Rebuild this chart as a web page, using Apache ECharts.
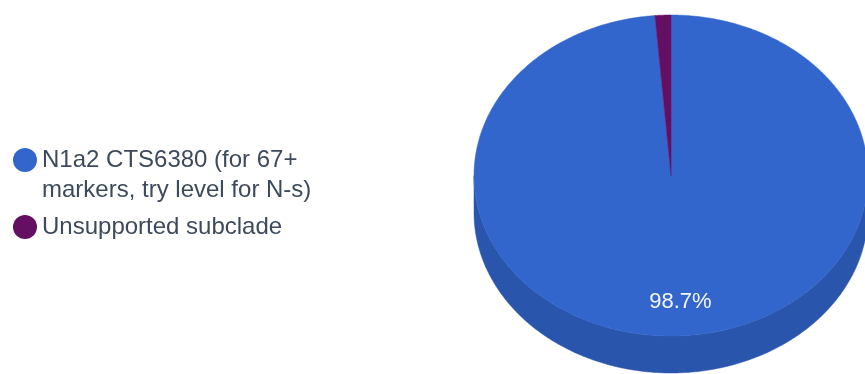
<!DOCTYPE html>
<html><head><meta charset="utf-8">
<script src="https://cdn.jsdelivr.net/npm/echarts@6/dist/echarts.min.js"></script>
<style>html,body{margin:0;padding:0;background:#fff}#c{width:865px;height:374px}</style>
</head><body><div id="c"></div>
<script>
// ---- data ----
const categories = ['N1a2 CTS6380 (for 67+ markers, try level for N-s)', 'Unsupported subclade'];
const values = [98.7, 1.3];
const colors = ['#3366cc', '#650f63'];
const sideColors = ['#2a55ad', '#4a0b48'];

const total = values.reduce((a, b) => a + b, 0);
const starts = [];
let acc = 0;
values.forEach(v => { starts.push(acc); acc += v; });

const PIE = { cx: 671, cy: 175.5, rx: 197, ry: 160.5, depth: 37, labelR: 0.79 };
const LEGEND_FONT = '24px "Liberation Sans", Arial, sans-serif';
const LEGEND_WIDTH = 290;

function pt(theta, dy) {
  const r = theta * Math.PI / 180;
  return [PIE.cx + PIE.rx * Math.sin(r), PIE.cy - PIE.ry * Math.cos(r) + (dy || 0)];
}
function arc(a, b, dy) {
  const pts = [];
  const n = Math.max(2, Math.ceil(Math.abs(b - a) * 2));
  for (let i = 0; i <= n; i++) pts.push(pt(a + (b - a) * i / n, dy));
  return pts;
}

function makeRender(idx) {
  return function (params, api) {
    const s = api.value(0), v = api.value(1);
    const a = s / total * 360, b = (s + v) / total * 360;
    const children = [];
    const fa = Math.max(a, 90), fb = Math.min(b, 270);
    if (fb > fa) {
      const top = arc(fa, fb, 0), bot = arc(fb, fa, PIE.depth);
      children.push({ type: 'polygon', shape: { points: top.concat(bot) },
        style: { fill: sideColors[idx], stroke: sideColors[idx], lineWidth: 0.5 } });
    }
    const face = [[PIE.cx, PIE.cy]].concat(arc(a, b, 0));
    children.push({ type: 'polygon', shape: { points: face },
      style: { fill: colors[idx], stroke: colors[idx], lineWidth: 0.5 } });
    const share = v / total;
    if (share > 0.05) {
      const m = (a + b) / 2 * Math.PI / 180;
      children.push({ type: 'text', z2: 10,
        style: { text: (share * 100).toFixed(1) + '%',
          x: PIE.cx + PIE.labelR * PIE.rx * Math.sin(m) + 3,
          y: PIE.cy - PIE.labelR * PIE.ry * Math.cos(m),
          align: 'center', verticalAlign: 'middle',
          fill: '#f4f7ff', font: '22px "Liberation Sans", Arial, sans-serif' } });
    }
    return { type: 'group', children };
  };
}

// measure legend names so that wrapped entries keep their icon on the first line
const ctx = document.createElement('canvas').getContext('2d');
ctx.font = LEGEND_FONT;
function legendText(name) {
  return ctx.measureText(name).width > LEGEND_WIDTH ? '\n' + name : name;
}

const series = categories.map((name, i) => ({
  type: 'custom', name: name, coordinateSystem: 'none',
  itemStyle: { color: colors[i] },
  renderItem: makeRender(i),
  data: [[starts[i], values[i]]],
  silent: true, animation: false
}));

const chart = echarts.init(document.getElementById('c'));
chart.setOption({
  animation: false,
  color: colors,
  legend: {
    orient: 'vertical', left: 13, top: 115, padding: 0,
    icon: 'circle', itemWidth: 24, itemHeight: 24, itemGap: 7,
    selectedMode: false,
    formatter: legendText,
    textStyle: { fontFamily: '"Liberation Sans", Arial, sans-serif', fontSize: 24,
      lineHeight: 30, color: '#3d4a5c', width: LEGEND_WIDTH, overflow: 'break' },
    data: categories
  },
  series: series
});
</script></body></html>
